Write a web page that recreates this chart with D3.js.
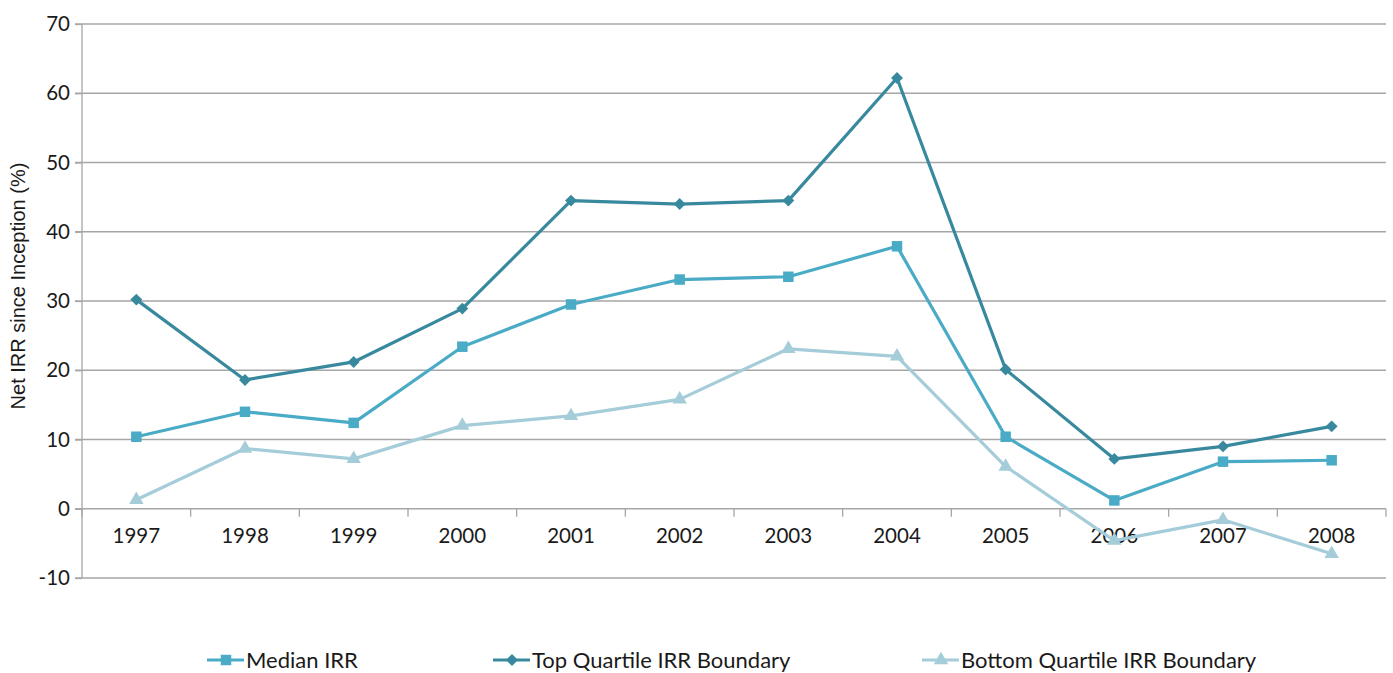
<!DOCTYPE html>
<html>
  <head>
    <meta charset="utf-8">
    <title>Net IRR since Inception</title>
    <style>
      body { margin: 0; background: #fff; }
      text { font-family: Lato, "DejaVu Sans", sans-serif; fill: #1a1a1a; }
      .grid line { stroke: #a6a6a6; stroke-width: 1.3; }
      .axis path, .axis line { stroke: #a6a6a6; stroke-width: 1.3; }
      .axis text { font-size: 20.5px; }
      .legend text { font-size: 22px; }
    </style>
  </head>
  <body>
    <div id="chart"></div>
    <script src="https://cdn.jsdelivr.net/npm/d3@7"></script>
    <script>
    var years = ["1997", "1998", "1999", "2000", "2001", "2002", "2003", "2004", "2005", "2006", "2007", "2008"];
    var medianIRR = [10.4, 14.0, 12.4, 23.4, 29.5, 33.1, 33.5, 37.9, 10.4, 1.2, 6.8, 7.0];
    var topQuartile = [30.2, 18.6, 21.2, 28.9, 44.5, 44.0, 44.5, 62.2, 20.1, 7.2, 9.0, 11.9];
    var bottomQuartile = [1.3, 8.7, 7.2, 12.0, 13.4, 15.8, 23.1, 22.0, 6.1, -4.6, -1.6, -6.5];
    var yTicks = [-10, 0, 10, 20, 30, 40, 50, 60, 70];

    var width = 1393, height = 673;
    var margin = { left: 82, right: 7, top: 24, bottom: 95 };

    var svg = d3.select("#chart").append("svg")
        .attr("width", width)
        .attr("height", height);

    var x = d3.scaleBand()
        .domain(years)
        .range([margin.left, width - margin.right]);

    var y = d3.scaleLinear()
        .domain([-10, 70])
        .range([height - margin.bottom, margin.top]);

    // horizontal gridlines
    svg.append("g").attr("class", "grid")
        .selectAll("line")
        .data(yTicks)
        .enter().append("line")
        .attr("x1", margin.left - 7)
        .attr("x2", width - margin.right)
        .attr("y1", function(d) { return y(d); })
        .attr("y2", function(d) { return y(d); });

    // y axis
    var yAxis = svg.append("g").attr("class", "axis")
        .attr("transform", "translate(" + margin.left + ",0)")
        .call(d3.axisLeft(y).tickValues(yTicks).tickSize(7).tickSizeOuter(0)
          .tickFormat(function(d) { return String(d); }));
    yAxis.select(".domain").remove();
    yAxis.append("line")
        .attr("x1", 0).attr("x2", 0)
        .attr("y1", y(70)).attr("y2", y(-10))
        .attr("stroke", "#a6a6a6").attr("stroke-width", 1.3);
    yAxis.selectAll("text").attr("x", -12).attr("fill", "#1a1a1a");

    // x axis at zero, ticks at band edges
    var xAxis = svg.append("g").attr("class", "axis")
        .attr("transform", "translate(0," + y(0) + ")");
    var edges = years.map(function(d) { return x(d); }).concat([x.range()[1]]);
    xAxis.selectAll(".tk")
        .data(edges)
        .enter().append("line")
        .attr("class", "tk")
        .attr("x1", function(d) { return d; })
        .attr("x2", function(d) { return d; })
        .attr("y1", 0).attr("y2", 8);
    xAxis.selectAll(".lbl")
        .data(years)
        .enter().append("text")
        .attr("class", "lbl")
        .attr("x", function(d) { return x(d) + x.bandwidth() / 2; })
        .attr("y", 34)
        .attr("text-anchor", "middle")
        .text(function(d) { return d; });

    // y axis title
    svg.append("text")
        .attr("transform", "translate(25,286) rotate(-90)")
        .attr("text-anchor", "middle")
        .style("font-family", "'Liberation Sans', Arial, sans-serif")
        .style("font-size", "20px")
        .text("Net IRR since Inception (%)");

    var series = [
      { name: "Median IRR", values: medianIRR, color: "#4aabc6", shape: d3.symbolSquare, size: 110 },
      { name: "Top Quartile IRR Boundary", values: topQuartile, color: "#38899e", shape: d3.symbolDiamond2, size: 90 },
      { name: "Bottom Quartile IRR Boundary", values: bottomQuartile, color: "#a5ccd9", shape: d3.symbolTriangle, size: 90 }
    ];

    var line = d3.line()
        .x(function(d, i) { return x(years[i]) + x.bandwidth() / 2; })
        .y(function(d) { return y(d); });

    var drawOrder = [series[2], series[0], series[1]];
    drawOrder.forEach(function(s) {
      var g = svg.append("g");
      g.append("path")
          .datum(s.values)
          .attr("fill", "none")
          .attr("stroke", s.color)
          .attr("stroke-width", 3.2)
          .attr("stroke-linejoin", "round")
          .attr("d", line);
      g.selectAll("path.pt")
          .data(s.values)
          .enter().append("path")
          .attr("class", "pt")
          .attr("fill", s.color)
          .attr("transform", function(d, i) {
            return "translate(" + (x(years[i]) + x.bandwidth() / 2) + "," + y(d) + ")";
          })
          .attr("d", d3.symbol().type(s.shape).size(s.size));
    });

    // legend
    var legendX = [207, 493, 922];
    var legend = svg.append("g").attr("class", "legend")
        .selectAll("g")
        .data(series)
        .enter().append("g")
        .attr("transform", function(d, i) { return "translate(" + legendX[i] + ",660)"; });
    legend.append("line")
        .attr("x1", 0).attr("x2", 37)
        .attr("stroke", function(d) { return d.color; })
        .attr("stroke-width", 3.2);
    legend.append("path")
        .attr("transform", "translate(19,0)")
        .attr("fill", function(d) { return d.color; })
        .attr("d", function(d) { return d3.symbol().type(d.shape).size(d.size)(); });
    legend.append("text")
        .attr("x", 39)
        .attr("dy", "0.35em")
        .text(function(d) { return d.name; });
    </script>
  </body>
</html>
